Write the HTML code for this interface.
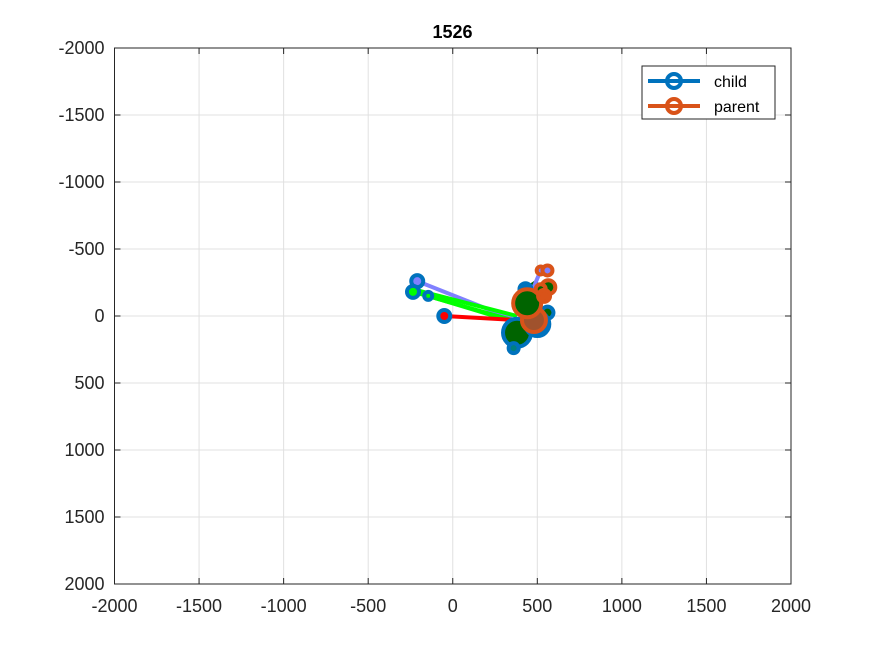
<!DOCTYPE html>
<html><head><meta charset="utf-8"><style>
body{margin:0;background:#fff;}
svg text{font-family:"Liberation Sans",Arial,sans-serif;}
</style></head><body>
<svg id="chart" width="875" height="656">
<rect width="875" height="656" fill="#fff"/>
<g id="grid"></g>
<g id="axes"></g>
<g id="marks"></g>
<text x="452.5" y="38" text-anchor="middle" font-size="18" font-weight="bold" fill="#000">1526</text>
<g>
<rect x="642" y="66" width="133" height="53" fill="#fff" stroke="#262626" stroke-width="1"/>
<line x1="648" y1="81" x2="700" y2="81" stroke="#0072bd" stroke-width="4"/>
<circle cx="674" cy="81" r="7" fill="none" stroke="#0072bd" stroke-width="4"/>
<text x="714" y="87" font-size="16" fill="#000">child</text>
<line x1="648" y1="106" x2="700" y2="106" stroke="#d95319" stroke-width="4"/>
<circle cx="674" cy="106" r="7" fill="none" stroke="#d95319" stroke-width="4"/>
<text x="714" y="112" font-size="16" fill="#000">parent</text>
</g>
</svg>
<script>
const xTicks=[-2000,-1500,-1000,-500,0,500,1000,1500,2000];
const yTicks=[-2000,-1500,-1000,-500,0,500,1000,1500,2000];
// links: child -> parent
const linkChildX=[-210,-235,-145,-50,430,520,-235];
const linkChildY=[-260,-180,-150,0,-200,-340,-200];
const linkParentX=[350,350,350,370,500,440,380];
const linkParentY=[20,30,40,30,-260,-100,0];
const linkColors=["#8080ff","#00ff00","#00ff00","#ff0000","#006400","#8080ff","#00ff00"];
const childX=[-210,-235,-145,-50,380,360,430,560,500];
const childY=[-260,-180,-150,0,125,240,-200,-25,60];
const childR=[6,6,4,6,14,5,6,6,12];
const childFill=["#8080ff","#00ff00","#00ff00","#ff0000","#006400","#008080","#0072bd","#006400","#0072bd"];
const parentX=[480,440,520,560,565,520,540];
const parentY=[30,-95,-340,-340,-215,-200,-150];
const parentR=[12,14,4,5,7,5,6];
const parentFill=["#a0522d","#006400","#8080ff","#8080ff","#006400","#006400","#d95319"];
const L=114.5,R=791,T=48,B=584;
const sx=v=>L+(v+2000)/4000*(R-L);
const sy=v=>T+(v+2000)/4000*(B-T);
const NS="http://www.w3.org/2000/svg";
function mk(tag,attrs,parent){const e=document.createElementNS(NS,tag);for(const k in attrs)e.setAttribute(k,attrs[k]);parent.appendChild(e);return e;}
const grid=document.getElementById('grid'),axes=document.getElementById('axes'),marks=document.getElementById('marks');
xTicks.forEach(t=>{const x=sx(t);
 const g=mk('line',{x1:x,x2:x,y1:T,y2:B,stroke:'#e0e0e0','stroke-width':1},grid);
 
 
 mk('line',{x1:x,x2:x,y1:B,y2:B-6,stroke:'#262626'},axes);
 mk('line',{x1:x,x2:x,y1:T,y2:T+6,stroke:'#262626'},axes);
 const tx=mk('text',{x:x,y:B+28,'text-anchor':'middle','font-size':18,fill:'#262626'},axes);tx.textContent=t;
 
 
});
yTicks.forEach(t=>{const y=sy(t);
 const g=mk('line',{x1:L,x2:R,y1:y,y2:y,stroke:'#e0e0e0','stroke-width':1},grid);
 
 
 mk('line',{x1:L,x2:L+6,y1:y,y2:y,stroke:'#262626'},axes);
 mk('line',{x1:R,x2:R-6,y1:y,y2:y,stroke:'#262626'},axes);
 const tx=mk('text',{x:L-10,y:y+6,'text-anchor':'end','font-size':18,fill:'#262626'},axes);tx.textContent=t;
 
 
});
mk('rect',{x:L,y:T,width:R-L,height:B-T,fill:'none',stroke:'#262626','stroke-width':1},axes);
linkChildX.forEach((v,i)=>{
 const l=mk('line',{x1:sx(v),y1:sy(linkChildY[i]),x2:sx(linkParentX[i]),y2:sy(linkParentY[i]),stroke:linkColors[i],'stroke-width':4},marks);
 
 
});
childX.forEach((v,i)=>{
 const c=mk('circle',{cx:sx(v),cy:sy(childY[i]),r:childR[i],fill:childFill[i],stroke:'#0072bd','stroke-width':4},marks);
 
 
});
parentX.forEach((v,i)=>{
 const c=mk('circle',{cx:sx(v),cy:sy(parentY[i]),r:parentR[i],fill:parentFill[i],stroke:'#d95319','stroke-width':4},marks);
 
 
});
</script>
</body></html>
